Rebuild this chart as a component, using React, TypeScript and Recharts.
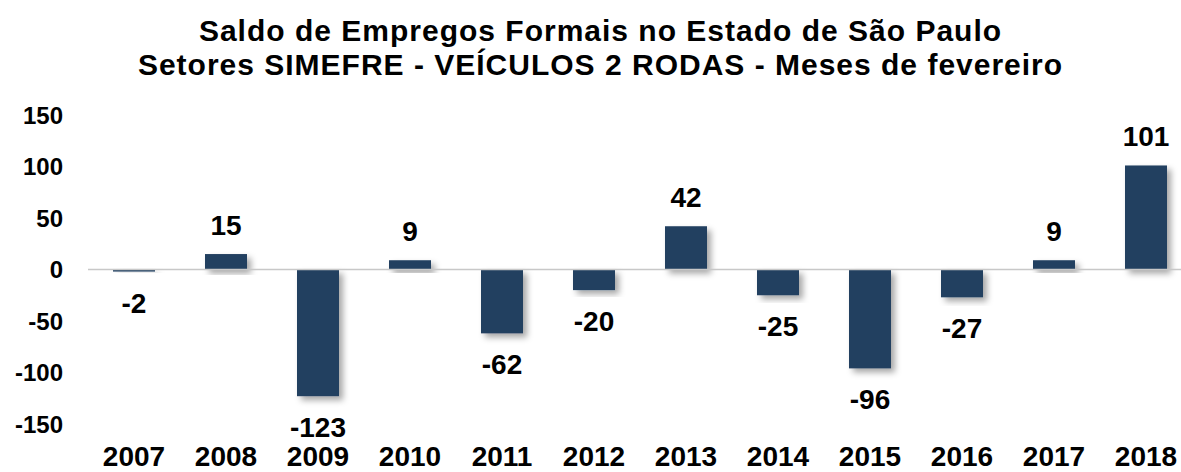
import React from 'react';
import { BarChart, Bar, XAxis, YAxis, ReferenceLine, LabelList } from 'recharts';

const years = ['2007', '2008', '2009', '2010', '2011', '2012', '2013', '2014', '2015', '2016', '2017', '2018'];
const saldo = [-2, 15, -123, 9, -62, -20, 42, -25, -96, -27, 9, 101];
const yTicks = [-150, -100, -50, 0, 50, 100, 150];

const data = years.map((year, i) => ({ year, saldo: saldo[i] }));

const FONT = "Arial, 'Liberation Sans', sans-serif";
const BAR_COLOR = '#243F60';

// bar with a soft drop shadow like the Excel original
const ShadowBar = (props: any) => {
  const { x, y, width, height } = props;
  const top = Math.min(y, y + height);
  const h = Math.max(Math.abs(height), 1);
  return <rect x={x} y={top} width={width} height={h} fill={BAR_COLOR} filter="url(#barShadow)" />;
};

const ValueLabel = (props: any) => {
  const { x, y, width, height, value } = props;
  const top = Math.min(y, y + height);
  const bottom = Math.max(y, y + height);
  const cx = x + width / 2;
  const ty = value >= 0 ? top - 19 : bottom + 41;
  return (
    <text x={cx} y={ty} textAnchor="middle" fontFamily={FONT} fontSize={28} fontWeight="bold" fill="#000">
      {value}
    </text>
  );
};

export default function App() {
  return (
    <div style={{ position: 'relative', width: 1181, height: 472, overflow: 'hidden', background: '#fff' }}>
      <style>{'body{margin:0}'}</style>
      <svg width={0} height={0} style={{ position: 'absolute' }}>
        <defs>
          <filter id="barShadow" x="-30%" y="-30%" width="160%" height="160%">
            <feDropShadow dx={4} dy={4} stdDeviation={3} floodColor="#000" floodOpacity={0.35} />
          </filter>
        </defs>
      </svg>
      <div
        style={{
          position: 'absolute',
          top: 14,
          left: 10,
          width: 1181,
          textAlign: 'center',
          fontFamily: FONT,
          fontWeight: 'bold',
          fontSize: 30,
          letterSpacing: 1,
          lineHeight: '34px',
          color: '#000',
        }}
      >
        <div>Saldo de Empregos Formais no Estado de São Paulo</div>
        <div>Setores SIMEFRE - VEÍCULOS 2 RODAS - Meses de fevereiro</div>
      </div>
      <BarChart width={1192} height={472} data={data} margin={{ top: 115, right: 0, left: 0, bottom: 0 }}>
        <XAxis
          dataKey="year"
          axisLine={false}
          tickLine={false}
          tickSize={0}
          tickMargin={22}
          height={48}
          interval={0}
          tick={{ fontFamily: FONT, fontSize: 28, fontWeight: 'bold', fill: '#000' }}
        />
        <YAxis
          domain={[-150, 150]}
          ticks={yTicks}
          axisLine={false}
          tickLine={false}
          tickSize={0}
          tickMargin={25}
          width={88}
          tick={{ fontFamily: FONT, fontSize: 24, fontWeight: 'bold', fill: '#000' }}
        />
        <ReferenceLine y={0} stroke="#c8c8c8" strokeWidth={1.5} />
        <Bar dataKey="saldo" barSize={42} shape={<ShadowBar />} isAnimationActive={false}>
          <LabelList dataKey="saldo" content={<ValueLabel />} />
        </Bar>
      </BarChart>
    </div>
  );
}
